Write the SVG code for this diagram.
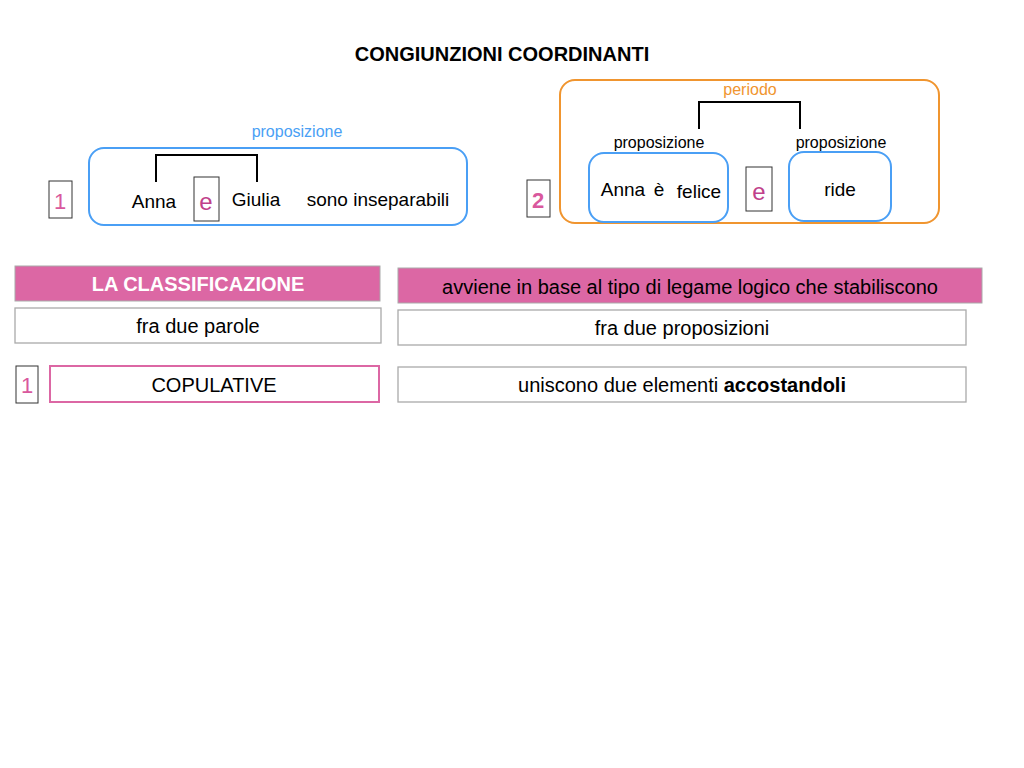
<svg xmlns="http://www.w3.org/2000/svg" width="1024" height="768" viewBox="0 0 1024 768">
<style>
text{font-family:"Liberation Sans",Arial,sans-serif;fill:#000}
.c{text-anchor:middle}
.num{fill:#d9589d;font-size:22px;text-anchor:middle}
.nb{fill:#fff;stroke:#333;stroke-width:1}
.wb{fill:#fff;stroke:#aaa;stroke-width:1.3}
.br{fill:none;stroke:#000;stroke-width:2}
</style>
<rect width="1024" height="768" fill="#fff"/>
<text x="502" y="61" class="c" font-size="20" font-weight="bold">CONGIUNZIONI COORDINANTI</text>
<g id="ex1">
<text x="297" y="137" class="c" font-size="16" style="fill:#4a9ff5">proposizione</text>
<rect x="89" y="148" width="378" height="77" rx="15" fill="none" stroke="#4a9ff5" stroke-width="2"/>
<path class="br" d="M156 182V155H257V182"/>
<text x="154" y="208" class="c" font-size="19">Anna</text>
<rect class="nb" x="194" y="177" width="25" height="44"/>
<text x="206" y="210" class="c" font-size="24" style="fill:#c0408a">e</text>
<text x="256" y="206" class="c" font-size="19">Giulia</text>
<text x="378" y="206" class="c" font-size="19">sono inseparabili</text>
</g>
<g id="n1"><rect class="nb" x="49" y="181" width="23" height="37"/><text x="60" y="209" class="num">1</text></g>
<g id="ex2">
<rect x="560" y="80" width="379" height="143" rx="15" fill="none" stroke="#f0952f" stroke-width="2"/>
<text x="750" y="95" class="c" font-size="16" style="fill:#f0952f">periodo</text>
<path class="br" d="M699 129V102H800V129"/>
<text x="659" y="148" class="c" font-size="16">proposizione</text>
<text x="841" y="148" class="c" font-size="16">proposizione</text>
<rect x="589" y="153" width="139" height="69" rx="15" fill="none" stroke="#4a9ff5" stroke-width="2"/>
<text x="623" y="196" class="c" font-size="19">Anna</text>
<text x="659" y="196" class="c" font-size="19">è</text>
<text x="699" y="198" class="c" font-size="19">felice</text>
<rect class="nb" x="746" y="167" width="26" height="44"/>
<text x="759" y="200" class="c" font-size="24" style="fill:#c0408a">e</text>
<rect x="789" y="152" width="102" height="69" rx="15" fill="none" stroke="#4a9ff5" stroke-width="2"/>
<text x="840" y="196" class="c" font-size="19">ride</text>
</g>
<g id="n2"><rect class="nb" x="527" y="180" width="23" height="37"/><text x="538" y="208" class="num" font-weight="bold">2</text></g>
<g id="cls">
<rect x="15" y="266" width="365" height="35" fill="#dc67a4" stroke="#aaa"/>
<text x="198" y="291" class="c" font-size="20" font-weight="bold" style="fill:#fff">LA CLASSIFICAZIONE</text>
</g>
<g id="avv">
<rect x="398" y="268" width="584" height="35" fill="#dc67a4" stroke="#aaa"/>
<text x="690" y="294" class="c" font-size="20">avviene in base al tipo di legame logico che stabiliscono</text>
</g>
<g id="p1"><rect class="wb" x="15" y="308" width="366" height="35"/><text x="198" y="333" class="c" font-size="20">fra due parole</text></g>
<g id="p2"><rect class="wb" x="398" y="310" width="568" height="35"/><text x="682" y="335" class="c" font-size="20">fra due proposizioni</text></g>
<g id="n3"><rect class="nb" x="16" y="366" width="22" height="37"/><text x="27" y="393" class="num">1</text></g>
<g id="cop"><rect x="50" y="366" width="329" height="36" fill="#fff" stroke="#dc67a4" stroke-width="2"/><text x="214" y="392" class="c" font-size="20">COPULATIVE</text></g>
<g id="uni"><rect class="wb" x="398" y="367" width="568" height="35"/><text x="682" y="392" class="c" font-size="20">uniscono due elementi <tspan font-weight="bold">accostandoli</tspan></text></g>
</svg>
